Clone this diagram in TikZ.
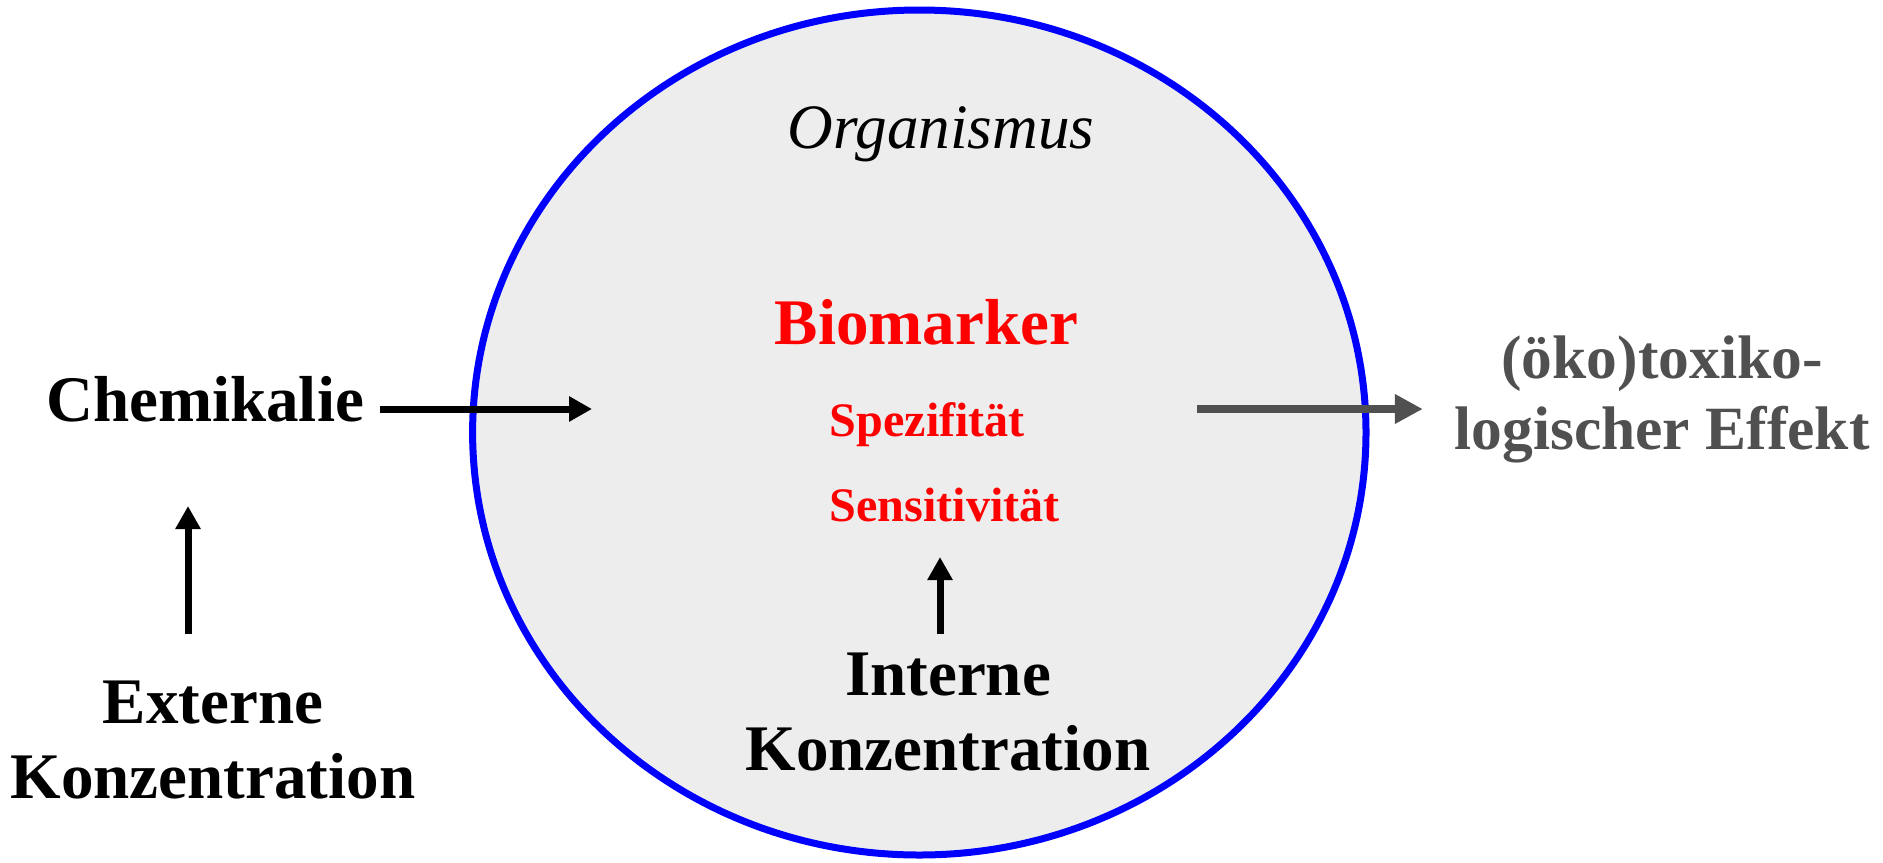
\documentclass[tikz,border=0pt]{standalone}
\usepackage{fontspec}
\setmainfont{Liberation Serif}
\usetikzlibrary{arrows.meta}
\definecolor{organfill}{HTML}{EDEDED}
\definecolor{effgrey}{HTML}{505050}
\begin{document}
\begin{tikzpicture}[
    lbl/.style={inner sep=0pt, font=\fontsize{18.5}{21.3}\selectfont\bfseries},
    small/.style={inner sep=0pt, text=red, font=\fontsize{13.7}{16}\selectfont\bfseries},
    arr/.style={-{Triangle[length=0.23cm, width=0.24cm]}, line width=0.07cm},
    arrg/.style={-{Triangle[length=0.28cm, width=0.28cm]}, line width=0.08cm, effgrey}]
      \useasboundingbox (0, 0) rectangle (18.83, 8.62);
      \draw [blue, line width=0.07cm, fill=organfill] %
            (9.193, 4.295) ellipse [x radius=4.467, y radius=4.225];
      \node [inner sep=0pt, anchor=base, font=\fontsize{18}{21}\selectfont\itshape] %
            (org) at (9.41, 7.14) {Organismus};
      \node [lbl, anchor=base, text=red] (bio) at (9.265, 5.18) {Biomarker};
      \node [small, anchor=base west] (spez) at (8.29, 4.26) {Spezifität};
      \node [small, anchor=base west] (sens) at (8.29, 3.41) {Sensitivität};
      \node [lbl, anchor=base] (chem) at (2.05, 4.41) {Chemikalie};
      \node [lbl, anchor=north, align=center] (ext) at (2.13, 1.82) %
            {Externe\\Konzentration};
      \node [lbl, anchor=north, align=center] (int) at (9.48, 2.10) %
            {Interne\\Konzentration};
      \node [inner sep=0pt, anchor=north, align=center, text=effgrey, %
            font=\fontsize{17.5}{20.3}\selectfont\bfseries] (eff) at (16.62, 5.27) %
            {(öko)toxiko-\\logischer Effekt};
      \coordinate (chemtip) at (5.92, 4.53);
      \coordinate (efftail) at (11.97, 4.53);
      \coordinate (extfoot) at (1.88, 2.28);
      \coordinate (exttip) at (1.88, 3.56);
      \coordinate (intfoot) at (9.40, 2.28);
      \coordinate (inttip) at (9.40, 3.05);
      \draw [arr, shorten <=0.15cm] (chem.east |- chemtip) -- (chemtip);
      \draw [arrg, shorten >=0.31cm] (efftail) -- (eff.west |- efftail);
      \draw [arr] (extfoot) -- (exttip);
      \draw [arr] (intfoot) -- (inttip);
    \end{tikzpicture}
\end{document}
